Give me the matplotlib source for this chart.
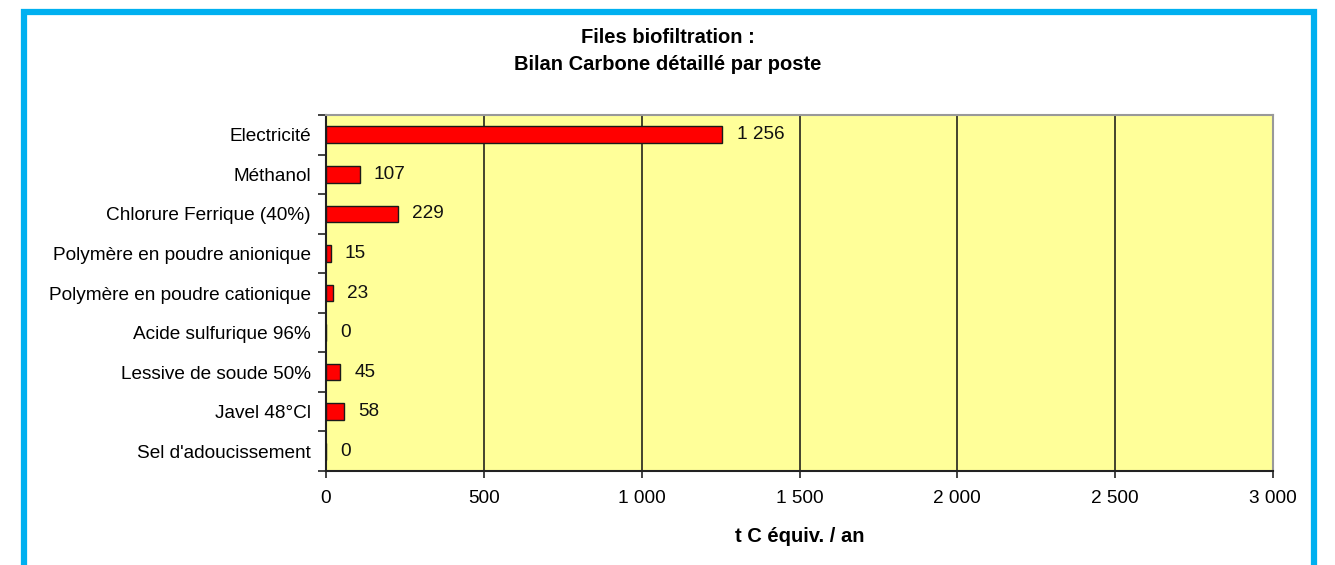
import matplotlib
matplotlib.use("Agg")
import matplotlib.pyplot as plt
from matplotlib.patches import Rectangle
from matplotlib.ticker import FuncFormatter, MultipleLocator, FixedLocator, NullFormatter

plt.rcParams['font.family'] = ['Liberation Sans', 'DejaVu Sans']

categories = ["Electricité", "Méthanol", "Chlorure Ferrique (40%)",
              "Polymère en poudre anionique", "Polymère en poudre cationique",
              "Acide sulfurique 96%", "Lessive de soude 50%", "Javel 48°Cl",
              "Sel d'adoucissement"]
values = [1256, 107, 229, 15, 23, 0, 45, 58, 0]
title_lines = ["Files biofiltration :", "Bilan Carbone détaillé par poste"]
xlabel = "t C équiv. / an"

W, H = 1335, 565
fig = plt.figure(figsize=(W / 100, H / 100), dpi=100)

# blue frame
fig.patches.append(Rectangle((24 / W, -0.1), (1314 - 24) / W, 1.1 - 12 / H,
                             transform=fig.transFigure, fill=False,
                             edgecolor="#00B0F0", linewidth=4.5))

ax = fig.add_axes([326 / W, 1 - 471 / H, (1273 - 326) / W, (471 - 115) / H])
ax.set_facecolor("#FFFF99")

n = len(categories)
ypos = list(range(n))
ax.barh(ypos, values, height=0.42, color="#FF0000", edgecolor="#1a1a1a", linewidth=1.0, zorder=3)
ax.set_ylim(n - 0.5, -0.5)
ax.set_xlim(0, 3000)

FS = 13.7
fmt = lambda v: f"{int(v):,}".replace(",", " ")
for y, v in zip(ypos, values):
    ax.text(v + 45, y, fmt(v), va="center", ha="left", fontsize=FS, color="#111111", zorder=4)

ax.set_yticks(ypos)
ax.set_yticklabels(categories, fontsize=FS)
ax.yaxis.set_minor_locator(FixedLocator([i - 0.5 for i in range(n + 1)]))
ax.yaxis.set_minor_formatter(NullFormatter())
ax.tick_params(axis="y", which="major", length=0, pad=11)
ax.tick_params(axis="y", which="minor", length=6, width=1.2, direction="out", color="#222222")

ax.xaxis.set_major_locator(MultipleLocator(500))
ax.xaxis.set_major_formatter(FuncFormatter(lambda v, p: fmt(v)))
ax.tick_params(axis="x", length=5, width=1.2, direction="out", labelsize=FS, pad=9, color="#222222")
ax.grid(axis="x", color="#111111", linewidth=1.1, zorder=1)
ax.set_axisbelow(True)

for s in ["top", "right"]:
    ax.spines[s].set_color("#999999")
    ax.spines[s].set_linewidth(1.5)
for s in ["left", "bottom"]:
    ax.spines[s].set_color("#222222")
    ax.spines[s].set_linewidth(1.5)

ax.set_xlabel(xlabel, fontsize=14.5, fontweight="bold", labelpad=14)
fig.text(0.5, 1 - 37.5 / H, title_lines[0], ha="center", va="center", fontsize=14.5, fontweight="bold")
fig.text(0.5, 1 - 64.5 / H, title_lines[1], ha="center", va="center", fontsize=14.5, fontweight="bold")

fig.savefig("out.png", dpi=100)
